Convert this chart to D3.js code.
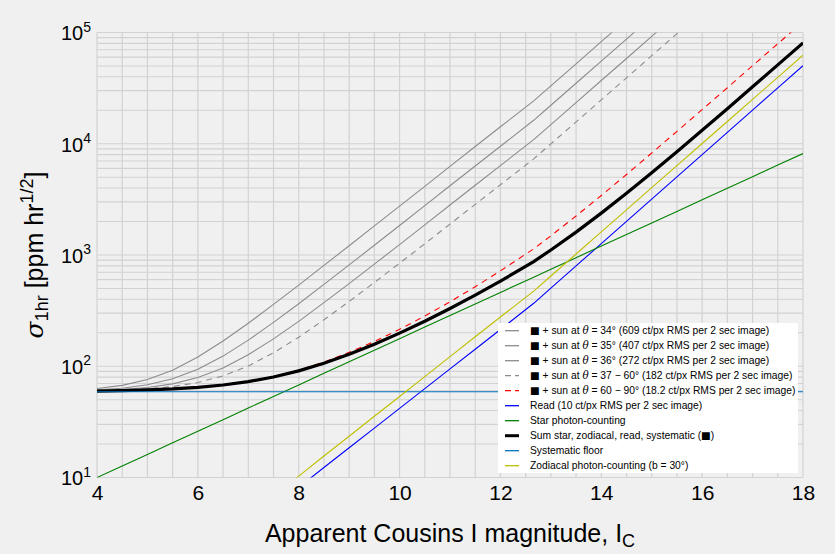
<!DOCTYPE html>
<html>
<head>
<meta charset="utf-8">
<script src="https://cdn.jsdelivr.net/npm/d3@7"></script>
<style>
  body { margin: 0; background: #f0f0f0; }
  text { font-family: "Liberation Sans", Arial, Helvetica, sans-serif; }
</style>
</head>
<body>
<svg id="main_svg" width="835" height="554"></svg>
<script>
// magnitudes where the curves were read
const mags = [4, 4.5, 5, 5.5, 6, 6.5, 7, 7.5, 8, 8.5, 9, 9.5, 10, 10.5, 11, 11.5, 12, 12.66,
              13, 13.5, 14, 14.5, 15, 15.5, 16, 16.5, 17, 17.5, 18];

// ppm hr^1/2 values
const sun34 = [63.0, 67.3, 75.9, 92.2, 120.9, 168.5, 243.6, 360.0, 536.5, 806.8, 1211, 1827, 2747, 4144,
               6259, 9436, 14202, 24298, 33165, 52323, 82714, 130510];
const sun35 = [61.3, 63.5, 68.1, 77.2, 94.0, 123.4, 171.6, 247.9, 364.8, 544.9, 815.2, 1223, 1842, 2776,
               4190, 6314, 9501, 16250, 22178, 34986, 55303, 87256, 137960];
const sun36 = [60.5, 61.8, 64.4, 69.4, 79.1, 96.6, 126.8, 176.1, 253.1, 372.8, 553.3, 828.4, 1240, 1865,
               2812, 4233, 6367, 10884, 14851, 23422, 37017, 58400, 92330, 145650];
const sun37 = [60.1, 61.0, 62.6, 65.7, 71.4, 82.0, 100.6, 132.0, 182.3, 261.6, 382.2, 566.4, 842.7, 1262,
               1897, 2850, 4281, 7309, 9968, 15712, 24824, 39155, 61894, 97628, 154370];
const sun60 = [59.8, 60.3, 61.2, 62.5, 64.6, 68.0, 73.0, 80.8, 92.3, 109.1, 133.3, 166.7, 214.8, 282.6,
               379.5, 518.3, 720.0, 1136, 1487, 2241, 3429, 5295, 8251, 12899, 20273, 31874, 50271, 79238, 125190];
const readNoise = [0.31, 0.47, 0.70, 1.06, 1.59, 2.39, 3.60, 5.42, 8.15, 12.3, 18.5, 27.8, 41.8, 63.0,
                   94.7, 142, 214, 368, 504, 798, 1265, 2004, 3177, 5035, 7980, 12650, 20040, 31770, 50350];
const starNoise = [10.0, 12.7, 16.1, 20.5, 26.1, 33.1, 42.1, 53.5, 67.9, 86.3, 110, 139, 177, 225,
                   286, 363, 461, 632, 745, 946, 1202, 1528, 1941, 2466, 3133, 3981, 5058, 6427, 8166];
const sumNoise = [59.8, 60.3, 61.2, 62.5, 64.6, 67.8, 72.7, 80.1, 90.9, 106.4, 128.4, 157.6, 198.5, 254.1,
                  330.3, 435.1, 581.8, 873.5, 1110, 1606, 2378, 3584, 5484, 8473, 13207, 20666, 32484, 51128, 80688];
const floorMags = [4, 18];
const floorNoise = [59, 59];
const zodiNoise = [0.39, 0.58, 0.88, 1.32, 2.0, 3.0, 4.5, 6.9, 10.3, 15.6, 23.5, 35.5, 53.5, 80.7,
                   122, 184, 277, 474, 647, 1021, 1614, 2547, 4027, 6353, 10046, 15850, 25060, 39540, 62520];

const xTicks = [4, 6, 8, 10, 12, 14, 16, 18];
const yTicks = [10, 100, 1000, 10000, 100000];

const svg = d3.select("#main_svg");
const W = 835, H = 554;
const plotL = 97, plotR = 803, plotT = 32.5, plotB = 477.5;

svg.append("rect").attr("width", W).attr("height", H).attr("fill", "#f0f0f0");

const x = d3.scaleLinear().domain([4, 18]).range([plotL, plotR]);
const y = d3.scaleLog().domain([10, 1e5]).range([plotB, plotT]);

// grid
const grid = svg.append("g").attr("stroke", "#d2d2d2").attr("stroke-width", 1.2);
grid.selectAll(".gx").data(d3.range(4, 18.01, 0.5)).join("line")
    .attr("x1", d => x(d)).attr("x2", d => x(d))
    .attr("y1", plotT).attr("y2", plotB);
grid.selectAll(".gy").data(y.ticks()).join("line")
    .attr("x1", plotL).attr("x2", plotR)
    .attr("y1", d => y(d)).attr("y2", d => y(d));

svg.append("clipPath").attr("id", "plotclip")
   .append("rect").attr("x", plotL).attr("y", plotT)
   .attr("width", plotR - plotL).attr("height", plotB - plotT);

const line = d3.line().x(d => x(d[0])).y(d => y(d[1]));
const plot = svg.append("g").attr("clip-path", "url(#plotclip)").attr("fill", "none");

const series = [
    {vals: sun34, ms: mags, color: "#8c8c8c", w: 1.1, dash: null,
     label: ["■", " + sun at ", "θ", " = 34° (609 ct/px RMS per 2 sec image)"]},
    {vals: sun35, ms: mags, color: "#8c8c8c", w: 1.1, dash: null,
     label: ["■", " + sun at ", "θ", " = 35° (407 ct/px RMS per 2 sec image)"]},
    {vals: sun36, ms: mags, color: "#8c8c8c", w: 1.1, dash: null,
     label: ["■", " + sun at ", "θ", " = 36° (272 ct/px RMS per 2 sec image)"]},
    {vals: sun37, ms: mags, color: "#8c8c8c", w: 1.1, dash: "6,5",
     label: ["■", " + sun at ", "θ", " = 37 − 60° (182 ct/px RMS per 2 sec image)"]},
    {vals: sun60, ms: mags, color: "#ff0000", w: 1.1, dash: "6,5",
     label: ["■", " + sun at ", "θ", " = 60 − 90° (18.2 ct/px RMS per 2 sec image)"]},
    {vals: readNoise, ms: mags, color: "#0000ff", w: 1.1, dash: null,
     label: ["Read (10 ct/px RMS per 2 sec image)"]},
    {vals: starNoise, ms: mags, color: "#008000", w: 1.1, dash: null,
     label: ["Star photon-counting"]},
    {vals: sumNoise, ms: mags, color: "#000000", w: 3.2, dash: null,
     label: ["Sum star, zodiacal, read, systematic (", "■", ")"]},
    {vals: floorNoise, ms: floorMags, color: "#0072bd", w: 1.1, dash: null,
     label: ["Systematic floor"]},
    {vals: zodiNoise, ms: mags, color: "#bfbf00", w: 1.1, dash: null,
     label: ["Zodiacal photon-counting (b = 30°)"]}
];

series.forEach(s => {
    plot.append("path")
        .attr("d", line(s.vals.map((v, i) => [s.ms[i], v])))
        .attr("stroke", s.color)
        .attr("stroke-width", s.w)
        .attr("stroke-dasharray", s.dash);
});

// axes
const xAxis = svg.append("g").attr("transform", `translate(0,${plotB})`)
    .call(d3.axisBottom(x).tickValues(xTicks).tickSize(0).tickPadding(8).tickFormat(d3.format("d")));
xAxis.select(".domain").remove();
xAxis.selectAll("text").attr("font-size", 21).attr("fill", "#000")
    .attr("font-family", "Liberation Sans, Arial, sans-serif");

const yAxis = svg.append("g").attr("transform", `translate(${plotL},0)`)
    .call(d3.axisLeft(y).tickValues(yTicks).tickSize(0).tickPadding(6).tickFormat(() => ""));
yAxis.select(".domain").remove();
yAxis.selectAll("text").each(function(d) {
    const t = d3.select(this)
        .attr("font-size", 20).attr("fill", "#000").attr("dy", "0.37em")
        .attr("font-family", "Liberation Sans, Arial, sans-serif");
    t.append("tspan").text("10");
    t.append("tspan").attr("dy", "-0.62em").attr("font-size", 14).text(Math.round(Math.log10(d)));
});

// axis titles
const xt = svg.append("text").attr("x", (plotL + plotR) / 2).attr("y", 542)
    .attr("text-anchor", "middle").attr("font-size", 25).attr("fill", "#000");
xt.append("tspan").text("Apparent Cousins I magnitude, I");
xt.append("tspan").attr("font-size", 18).attr("dy", 5).text("C");

const yt = svg.append("text")
    .attr("transform", `translate(43,${(plotT + plotB) / 2}) rotate(-90)`)
    .attr("text-anchor", "middle").attr("font-size", 25).attr("fill", "#000");
yt.append("tspan").attr("font-style", "italic").attr("font-family", "DejaVu Serif, serif").text("σ");
yt.append("tspan").attr("font-size", 18).attr("dy", 5).text("1hr");
yt.append("tspan").attr("dy", -5).text(" [ppm hr");
yt.append("tspan").attr("font-size", 18).attr("dy", -10).text("1/2");
yt.append("tspan").attr("dy", 10).text("]");

// legend
const leg = svg.append("g");
leg.append("rect").attr("x", 498).attr("y", 323).attr("width", 300).attr("height", 150).attr("fill", "#ffffff");
series.forEach((s, i) => {
    const ly = 330.7 + i * 15;
    leg.append("line").attr("x1", 505).attr("x2", 519).attr("y1", ly).attr("y2", ly)
       .attr("stroke", s.color).attr("stroke-width", s.w === 3.2 ? 3 : 1.3)
       .attr("stroke-dasharray", s.dash ? "6,4" : null);
    const t = leg.append("text").attr("x", 530).attr("y", ly + 3.7)
       .attr("font-size", 10.3).attr("fill", "#000").attr("xml:space", "preserve");
    s.label.forEach(part => {
        const sp = t.append("tspan").text(part);
        if (part === "θ") sp.attr("font-style", "italic").attr("font-family", "DejaVu Serif, serif");
        if (part === "■") sp.attr("font-family", "DejaVu Sans, sans-serif");
    });
});
</script>
</body>
</html>
